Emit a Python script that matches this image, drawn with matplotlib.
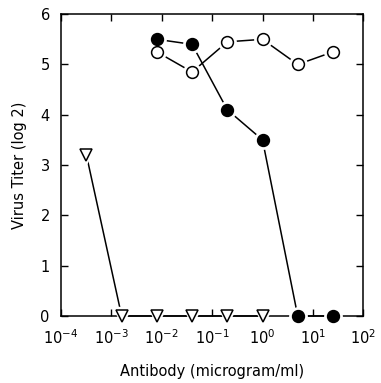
import numpy as np
import matplotlib
matplotlib.use("Agg")
import matplotlib.pyplot as plt

# antibody concentrations (5-fold dilutions)
conc_circ = [0.008, 0.04, 0.2, 1.0, 5.0, 25.0]
titer_open = [5.25, 4.85, 5.45, 5.5, 5.0, 5.25]
titer_filled = [5.5, 5.4, 4.1, 3.5, 0.0, 0.0]
conc_tri = [0.00032, 0.0016, 0.008, 0.04, 0.2, 1.0]
titer_tri = [3.2, 0.0, 0.0, 0.0, 0.0, 0.0]

plt.rcParams["font.family"] = "DejaVu Sans"
fig = plt.figure(figsize=(3.81, 3.83), dpi=100)
ax = fig.add_axes([0.160, 0.175, 0.7935, 0.788])


def series(x, y, face, marker, ms):
    ax.plot(x, y, color="black", lw=1.1, zorder=2, clip_on=False)
    ax.plot(x, y, ls="none", marker=marker, ms=ms + 4, mfc="white",
            mec="white", zorder=3, clip_on=False)
    ax.plot(x, y, ls="none", marker=marker, ms=ms, mfc=face,
            mec="black", mew=1.1, zorder=4, clip_on=False)


series(conc_tri, titer_tri, "white", "v", 9)
series(conc_circ, titer_filled, "black", "o", 8.5)
series(conc_circ, titer_open, "white", "o", 8.5)

ax.set_xscale("log")
ax.set_xlim(1e-4, 1e2)
ax.set_ylim(0, 6)
ax.set_xticks([10.0 ** k for k in range(-4, 3)])
ax.minorticks_off()
ax.set_yticks(range(0, 7))
ax.tick_params(direction="in", length=5, width=1, top=True, right=True,
               labelsize=10.5)
ax.tick_params(axis="x", pad=9)
ax.tick_params(axis="y", pad=8)
for s in ax.spines.values():
    s.set_linewidth(1.1)
ax.set_xlabel("Antibody (microgram/ml)", fontsize=10.5, labelpad=12)
ax.set_ylabel("Virus Titer (log 2)", fontsize=10.5, labelpad=10)

fig.savefig("out.png", dpi=100)
